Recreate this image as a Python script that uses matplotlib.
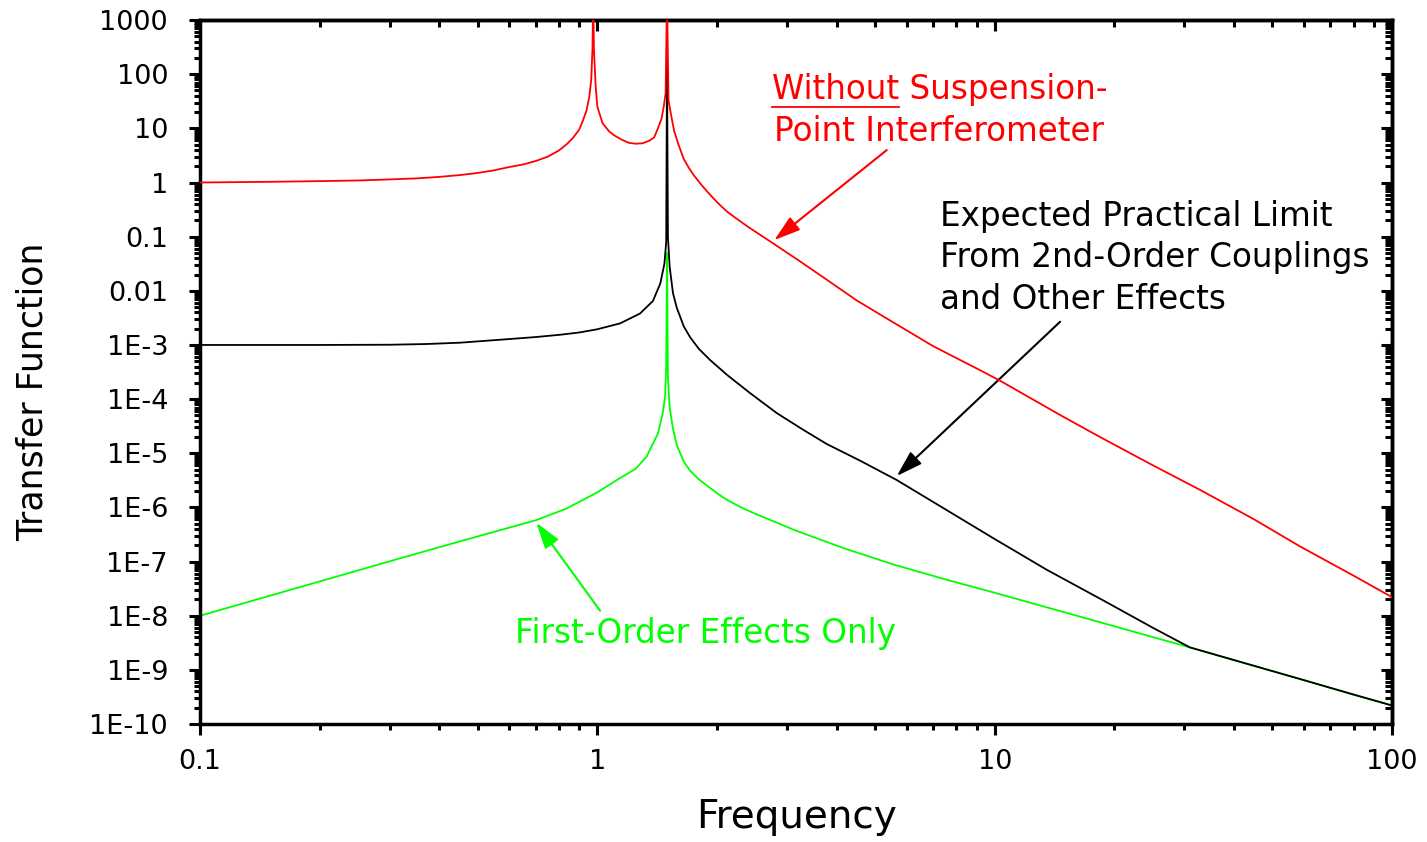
import numpy as np
import matplotlib
matplotlib.use("Agg")
import matplotlib.pyplot as plt
from matplotlib.ticker import FixedLocator, LogLocator, NullFormatter
from matplotlib.lines import Line2D

# curve (frequency, transfer function)
freq_red = [0.1, 0.15, 0.2, 0.25, 0.3, 0.35, 0.4, 0.45, 0.5, 0.55, 0.6, 0.65, 0.7, 0.75, 0.8,
            0.84, 0.87, 0.9, 0.92, 0.94, 0.955, 0.965, 0.972, 0.976, 0.98, 0.99, 1.0, 1.03, 1.07,
            1.1, 1.15, 1.2, 1.25, 1.3, 1.35, 1.39, 1.42, 1.45, 1.47, 1.485, 1.497, 1.51, 1.53,
            1.56, 1.6, 1.65, 1.7, 1.75, 1.84, 1.94, 2.03, 2.12, 2.25, 2.4, 2.77, 3.2, 3.78, 4.5,
            5.56, 7.0, 9.2, 10.3, 14.6, 18.4, 25, 32.9, 45, 58.7, 80, 100]
tf_red = [1.0, 1.03, 1.06, 1.09, 1.14, 1.19, 1.27, 1.37, 1.5, 1.68, 1.93, 2.15, 2.5, 3.0, 3.9,
          5.2, 6.8, 9.5, 14, 22, 40, 80, 300, 3000, 300, 60, 25, 12.5, 8.8,
          7.5, 6.2, 5.4, 5.2, 5.3, 5.9, 6.8, 10, 15, 26, 45, 3000, 33, 19,
          9, 5.0, 2.7, 1.85, 1.35, 0.85, 0.55, 0.39, 0.29, 0.21, 0.15, 0.075, 0.037, 0.016,
          6.6e-3, 2.6e-3, 9.5e-4, 3.4e-4, 2.2e-4, 5.1e-5, 2.0e-5, 6.0e-6, 2.1e-6, 6.0e-7,
          1.9e-7, 5.5e-8, 2.2e-8]

freq_black = [0.1, 0.2, 0.3, 0.37, 0.45, 0.57, 0.7, 0.81, 0.9, 1.0, 1.14, 1.28, 1.38, 1.44, 1.475,
              1.49, 1.497, 1.505, 1.52, 1.55, 1.585, 1.65, 1.71, 1.8, 1.92, 2.12, 2.42, 2.83, 3.3,
              3.78, 4.6, 5.67, 7.5, 9.92, 13.5, 18.8, 25.1, 31, 42, 58.6, 80, 100]
tf_black = [1e-3, 1.0e-3, 1.01e-3, 1.04e-3, 1.1e-3, 1.25e-3, 1.4e-3, 1.55e-3, 1.7e-3, 1.95e-3,
            2.5e-3, 3.8e-3, 6.5e-3, 0.0137, 0.032, 0.08, 180, 0.1, 0.028, 9e-3, 4.8e-3, 2.2e-3,
            1.4e-3, 8.5e-4, 5.3e-4, 2.8e-4, 1.3e-4, 5.5e-5, 2.7e-5, 1.48e-5, 7.2e-6, 3.2e-6,
            9.3e-7, 2.7e-7, 7.1e-8, 1.9e-8, 5.9e-9, 2.6e-9, 1.37e-9, 6.8e-10, 3.5e-10, 2.2e-10]

freq_green = [0.1, 0.179, 0.319, 0.45, 0.569, 0.7, 0.838, 1.0, 1.119, 1.25, 1.33, 1.42, 1.46,
              1.48, 1.49, 1.497, 1.505, 1.52, 1.55, 1.585, 1.65, 1.71, 1.8, 1.92, 2.02, 2.12,
              2.3, 2.5, 2.8, 3.11, 4.2, 5.56, 7.5, 9.92, 14.6, 20, 25.1, 31, 42, 58.6, 80, 100]
tf_green = [1e-8, 3.4e-8, 1.15e-7, 2.35e-7, 3.8e-7, 5.8e-7, 9.6e-7, 1.9e-6, 3.2e-6, 5.2e-6,
            8.7e-6, 2.3e-5, 5.5e-5, 1.1e-4, 4e-4, 0.05, 2.5e-4, 7.2e-5, 2.8e-5, 1.4e-5, 7.0e-6,
            4.8e-6, 3.3e-6, 2.3e-6, 1.74e-6, 1.38e-6, 1.0e-6, 7.6e-7, 5.4e-7, 3.9e-7, 1.73e-7,
            8.85e-8, 4.7e-8, 2.7e-8, 1.22e-8, 6.4e-9, 4.0e-9, 2.6e-9, 1.37e-9, 6.8e-10,
            3.5e-10, 2.2e-10]

x_ticks = [0.1, 1, 10, 100]
x_labels = ["0.1", "1", "10", "100"]
y_ticks = [1e3, 1e2, 1e1, 1, 0.1, 0.01, 1e-3, 1e-4, 1e-5, 1e-6, 1e-7, 1e-8, 1e-9, 1e-10]
y_labels = ["1000", "100", "10", "1", "0.1", "0.01", "1E-3", "1E-4", "1E-5", "1E-6",
            "1E-7", "1E-8", "1E-9", "1E-10"]

RED = "#ff0000"
GREEN = "#00ff00"

fig = plt.figure(figsize=(14.27, 8.42), dpi=100)
ax = fig.add_axes([0.1402, 0.1401, 0.8353, 0.8361])

ax.plot(freq_green, tf_green, color=GREEN, lw=1.3, zorder=2)
ax.plot(freq_black, tf_black, color="black", lw=1.3, zorder=3)
ax.plot(freq_red, tf_red, color=RED, lw=1.3, zorder=4)

ax.set_xscale("log")
ax.set_yscale("log")
ax.set_xlim(0.1, 100)
ax.set_ylim(1e-10, 1000)


def minor_loc():
    return LogLocator(base=10, subs=np.arange(2, 10), numticks=100)


ax.xaxis.set_major_locator(FixedLocator(x_ticks))
ax.xaxis.set_minor_locator(minor_loc())
ax.set_xticklabels(x_labels)
ax.xaxis.set_minor_formatter(NullFormatter())
ax.yaxis.set_major_locator(FixedLocator(y_ticks))
ax.yaxis.set_minor_locator(minor_loc())
ax.set_yticklabels(y_labels)
ax.yaxis.set_minor_formatter(NullFormatter())

for s in ax.spines.values():
    s.set_linewidth(2.5)
ax.tick_params(which="major", direction="out", length=8, width=2.2, labelsize=19.5)
ax.tick_params(which="minor", direction="out", length=4, width=2.2)
ax.tick_params(axis="x", which="major", pad=10)
ax.tick_params(axis="y", which="major", pad=15)

# inward ticks on top and right
top = ax.secondary_xaxis("top")
top.xaxis.set_major_locator(FixedLocator(x_ticks))
top.xaxis.set_minor_locator(minor_loc())
top.tick_params(which="major", direction="in", length=8, width=2.2, labeltop=False)
top.tick_params(which="minor", direction="in", length=5, width=2.2)
top.spines["top"].set_linewidth(2.5)
right = ax.secondary_yaxis("right")
right.yaxis.set_major_locator(FixedLocator(y_ticks))
right.yaxis.set_minor_locator(minor_loc())
right.tick_params(which="major", direction="in", length=8, width=2.2, labelright=False)
right.tick_params(which="minor", direction="in", length=5, width=2.2)
right.spines["right"].set_linewidth(2.5)

ax.set_xlabel("Frequency", fontsize=28)
ax.set_ylabel("Transfer Function", fontsize=25)
ax.xaxis.set_label_coords(0.5, -0.105)
ax.yaxis.set_label_coords(-0.126, 0.472)

# annotations
fs = 23.5
arrow = "-|>,head_length=1.6,head_width=0.5"
ax.text(0.4799, 0.8875, "Without Suspension-", transform=ax.transAxes, color=RED,
        fontsize=fs, va="baseline")
ax.text(0.4815, 0.8281, "Point Interferometer", transform=ax.transAxes, color=RED,
        fontsize=fs, va="baseline")
ax.annotate("", xy=(0.4818, 0.6875), xytext=(0.5761, 0.8153), xycoords="axes fraction",
            arrowprops=dict(arrowstyle=arrow, mutation_scale=10, color=RED, lw=1.5,
                            shrinkA=0, shrinkB=0))

for y, s in zip([0.7078, 0.6496, 0.5891],
                ["Expected Practical Limit", "From 2nd-Order Couplings", "and Other Effects"]):
    ax.text(0.6208, y, s, transform=ax.transAxes, color="black", fontsize=fs, va="baseline")
ax.annotate("", xy=(0.5845, 0.3523), xytext=(0.7215, 0.5714), xycoords="axes fraction",
            arrowprops=dict(arrowstyle=arrow, mutation_scale=10, color="black", lw=1.5,
                            shrinkA=0, shrinkB=0))

ax.text(0.2643, 0.1146, "First-Order Effects Only", transform=ax.transAxes, color=GREEN,
        fontsize=fs, va="baseline")
ax.annotate("", xy=(0.2821, 0.2859), xytext=(0.3356, 0.1609), xycoords="axes fraction",
            arrowprops=dict(arrowstyle=arrow, mutation_scale=10, color=GREEN, lw=1.5,
                            shrinkA=0, shrinkB=0))

# underline "Without"
fig.canvas.draw()
r = fig.canvas.get_renderer()
tmp = ax.text(0.4799, 0.8875, "Without", transform=ax.transAxes, fontsize=fs, va="baseline")
bb = tmp.get_window_extent(renderer=r)
tmp.remove()
W, H = fig.bbox.width, fig.bbox.height
yl = (bb.y0 - 1) / H
fig.add_artist(Line2D([bb.x0 / W, bb.x1 / W], [yl, yl], color=RED, lw=1.3))

fig.savefig("out.png", dpi=100)
